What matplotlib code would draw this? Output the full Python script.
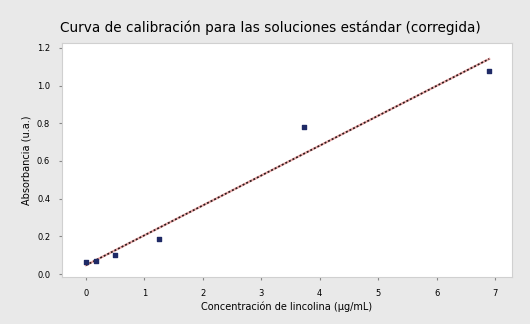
import numpy as np
import matplotlib.pyplot as plt

# data
conc = [0.0, 0.18, 0.5, 1.25, 3.73, 6.9]
resp = [0.065, 0.069, 0.10, 0.184, 0.78, 1.078]
xticks = [0, 1, 2, 3, 4, 5, 6, 7]
yticks = [0.0, 0.2, 0.4, 0.6, 0.8, 1.0, 1.2]

# least squares line
slope, inter = np.polyfit(conc, resp, 1)
xfit = np.array([conc[0], conc[-1]])
yfit = slope * xfit + inter

fig = plt.figure(figsize=(5.3, 3.24), dpi=100, facecolor='#e9e9e9')
ax = fig.add_axes([0.117, 0.145, 0.849, 0.722])
ax.set_facecolor('white')

ax.plot(xfit, yfit, color='#e07070', lw=1.6, alpha=0.6, zorder=2)
ax.plot(xfit, yfit, color='#2a1a1a', lw=1.2, linestyle=(0, (1.2, 1.2)), zorder=3)
ax.scatter(conc, resp, marker='s', s=11, color='#1f2a66', zorder=4)

ax.set_xlim(-0.41, 7.29)
ax.set_ylim(-0.015, 1.225)
ax.set_xticks(xticks)
ax.set_yticks(yticks)
ax.set_yticklabels(['%.1f' % v for v in yticks])
ax.tick_params(labelsize=6, length=2.5, color='#888888', pad=6)

for s in ax.spines.values():
    s.set_color('#d0d0d0')
    s.set_linewidth(0.8)

fig.text(0.51, 0.915, 'Curva de calibración para las soluciones estándar (corregida)',
         fontsize=9.8, ha='center', va='center')
ax.set_xlabel('Concentración de lincolina (µg/mL)', fontsize=7, labelpad=3)
ax.set_ylabel('Absorbancia (u.a.)', fontsize=7, labelpad=4)

fig.savefig('out.png', dpi=100, facecolor=fig.get_facecolor())
